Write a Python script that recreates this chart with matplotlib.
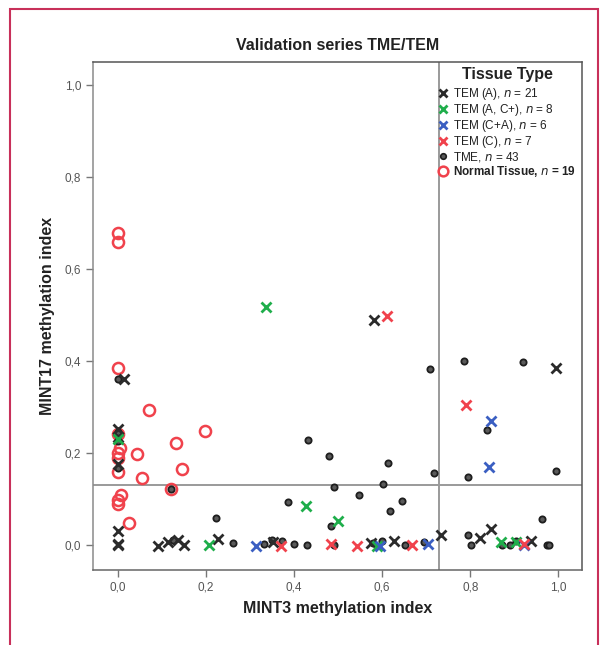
import matplotlib
matplotlib.use("Agg")
import matplotlib.pyplot as plt
from matplotlib.lines import Line2D
from matplotlib.patches import Rectangle

plt.rcParams['font.family'] = ['Liberation Sans', 'DejaVu Sans']

# ---- data (MINT3 index, MINT17 index) ----
tem_a_x = [0.014, 0.582, 0.994, 0.0, 0.0, 0.091, 0.114, 0.135, 0.150, 0.227, 0.351,
           0.574, 0.628, 0.734, 0.822, 0.848, 0.939, 0.0, 0.0, 0.0, 0.0]
tem_a_y = [0.361, 0.489, 0.386, 0.030, 0.000, -0.002, 0.007, 0.011, 0.001, 0.014, 0.007,
           0.004, 0.009, 0.022, 0.016, 0.036, 0.009, 0.252, 0.236, 0.176, 0.002]

tem_ac_x = [0.336, 0.427, 0.500, 0.207, 0.589, 0.870, 0.905, 0.0]
tem_ac_y = [0.518, 0.086, 0.052, 0.000, -0.002, 0.006, 0.007, 0.230]

tem_ca_x = [0.314, 0.595, 0.704, 0.847, 0.842, 0.923]
tem_ca_y = [-0.002, -0.002, 0.002, 0.269, 0.169, 0.000]

tem_c_x = [0.610, 0.790, 0.370, 0.484, 0.542, 0.667, 0.922]
tem_c_y = [0.498, 0.304, -0.002, 0.002, -0.002, 0.001, 0.002]

tme_x = [0.0, 0.708, 0.786, 0.920, 0.838, 0.994, 0.794, 0.718, 0.431, 0.480, 0.614,
         0.601, 0.645, 0.618, 0.963, 0.600, 0.652, 0.694, 0.795, 0.802, 0.873, 0.891,
         0.905, 0.974, 0.980, 0.490, 0.548, 0.385, 0.483, 0.332, 0.349, 0.373, 0.400,
         0.430, 0.491, 0.580, 0.124, 0.120, 0.223, 0.260, 0.0, 0.0, 0.0]
tme_y = [0.361, 0.382, 0.400, 0.399, 0.251, 0.161, 0.149, 0.156, 0.228, 0.193, 0.178,
         0.133, 0.096, 0.075, 0.056, 0.009, 0.001, 0.007, 0.022, 0.001, 0.000, 0.001,
         0.009, 0.001, 0.000, 0.127, 0.109, 0.093, 0.041, 0.002, 0.012, 0.009, 0.002,
         0.000, 0.000, 0.004, 0.012, 0.122, 0.059, 0.004, 0.246, 0.167, 0.226]

normal_x = [0.0, 0.0, 0.0, 0.070, 0.198, 0.0, 0.005, 0.132, 0.042, 0.0, 0.146, 0.0,
            0.055, 0.120, 0.007, 0.0, 0.0, 0.024, 0.0]
normal_y = [0.678, 0.659, 0.385, 0.294, 0.249, 0.241, 0.211, 0.221, 0.198, 0.189, 0.166,
            0.159, 0.146, 0.122, 0.108, 0.099, 0.090, 0.049, 0.200]

legend_title = "Tissue Type"
labels = [r"TEM (A), $\it{n}$ = 21", r"TEM (A, C+), $\it{n}$ = 8",
          r"TEM (C+A), $\it{n}$ = 6", r"TEM (C), $\it{n}$ = 7",
          r"TME, $\it{n}$ = 43", r"Normal Tissue, $\it{n}$ = 19"]
xticks = [0.0, 0.2, 0.4, 0.6, 0.8, 1.0]
yticks = [0.0, 0.2, 0.4, 0.6, 0.8, 1.0]
x_cut = 0.73
y_cut = 0.13

# ---- figure ----
fig = plt.figure(figsize=(6.08, 6.45), dpi=100)
W, H = 608, 645
fig.patches.append(Rectangle((10 / W, -0.05), 588 / W, 1.05 - 9 / H,
                             transform=fig.transFigure, fill=False,
                             edgecolor='#c8305a', linewidth=1.5))

ax = fig.add_axes([93 / W, 1 - 570 / H, (582 - 93) / W, (570 - 62) / H])
ax.set_xlim(-0.057, 1.054)
ax.set_ylim(-0.054, 1.05)

ax.axvline(x_cut, color='#9a9a9a', lw=1.4, zorder=1)
ax.axhline(y_cut, color='#9a9a9a', lw=1.4, zorder=1)

c_black = '#2b2b2b'
c_green = '#1fae4b'
c_blue = '#3b5fc2'
c_red = '#f0424c'

ax.plot(normal_x, normal_y, 'o', ms=8, mfc='none', mec=c_red, mew=1.8, zorder=3)
ax.plot(tme_x, tme_y, 'o', ms=4.5, mfc='#5a5a5a', mec='#1e1e1e', mew=1.3, zorder=4)
ax.plot(tem_a_x, tem_a_y, 'x', ms=7, color=c_black, mew=2.0, zorder=5)
ax.plot(tem_ac_x, tem_ac_y, 'x', ms=7, color=c_green, mew=2.0, zorder=5)
ax.plot(tem_ca_x, tem_ca_y, 'x', ms=7, color=c_blue, mew=2.0, zorder=5)
ax.plot(tem_c_x, tem_c_y, 'x', ms=7, color=c_red, mew=2.0, zorder=5)

for s in ax.spines.values():
    s.set_color('#555555')
    s.set_linewidth(1.1)
ax.spines['left'].set_color('#8a8a8a')
ax.spines['bottom'].set_color('#666666')

ax.set_xticks(xticks)
ax.set_yticks(yticks)
ax.set_xticklabels([f"{v:.1f}".replace('.', ',') for v in xticks])
ax.set_yticklabels([f"{v:.1f}".replace('.', ',') for v in yticks])
ax.tick_params(direction='out', length=5, width=1, color='#777777',
               labelcolor='#555555', labelsize=8.5)

ax.set_xlabel("MINT3 methylation index", fontsize=11.5, fontweight='bold',
              color='#222222', labelpad=5)
ax.set_ylabel("MINT17 methylation index", fontsize=11.5, fontweight='bold',
              color='#222222', labelpad=7)
ax.set_title("Validation series TME/TEM", fontsize=11.5, fontweight='bold',
             color='#222222', pad=9)

# legend title as separate text
fig.text(507 / W, 1 - 75 / H, legend_title, fontsize=11.5, fontweight='bold',
         color='#222222', ha='center', va='center')

handles = [
    Line2D([], [], ls='none', marker='x', ms=6, color=c_black, mew=2),
    Line2D([], [], ls='none', marker='x', ms=6, color=c_green, mew=2),
    Line2D([], [], ls='none', marker='x', ms=6, color=c_blue, mew=2),
    Line2D([], [], ls='none', marker='x', ms=6, color=c_red, mew=2),
    Line2D([], [], ls='none', marker='o', ms=4, mfc='#5a5a5a', mec='#1e1e1e', mew=1.2),
    Line2D([], [], ls='none', marker='o', ms=7, mfc='none', mec=c_red, mew=1.8),
]
leg = ax.legend(handles, labels, loc='upper left',
                bbox_to_anchor=((439 - 93) / 489, 1 - 24 / 508),
                frameon=False, fontsize=8.5,
                handlelength=0.6, handletextpad=0.55, labelspacing=0.0,
                borderaxespad=0.0, borderpad=0.0)
for t in leg.get_texts():
    t.set_color('#222222')
leg.get_texts()[-1].set_fontweight('bold')

fig.savefig("out.png", dpi=100)
